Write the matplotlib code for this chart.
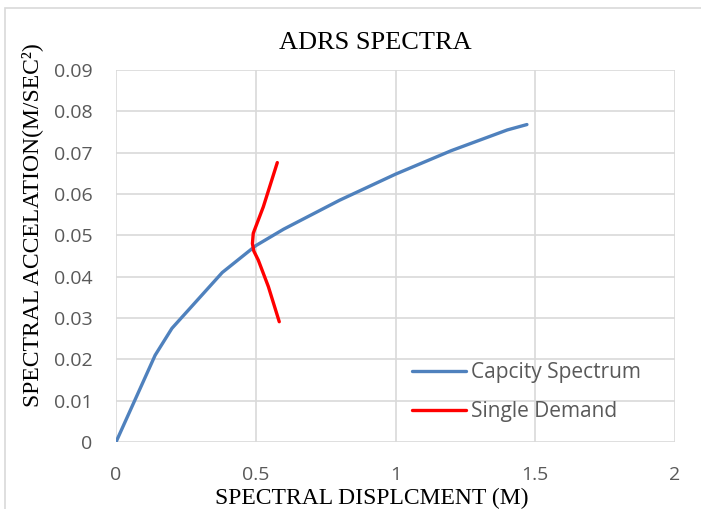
import matplotlib
matplotlib.use("Agg")
import matplotlib.pyplot as plt
from matplotlib.patches import Rectangle

# capacity spectrum (Sd in m, Sa in m/s^2)
cap_sd = [0.0, 0.14, 0.20, 0.30, 0.38, 0.50, 0.60, 0.80, 1.00, 1.20, 1.40, 1.47]
cap_sa = [0.0, 0.021, 0.0275, 0.035, 0.041, 0.0475, 0.0515, 0.0585, 0.0648, 0.0705, 0.0755, 0.0768]

# single demand spectrum
dem_sd = [0.584, 0.545, 0.509, 0.493, 0.488, 0.491, 0.527, 0.577]
dem_sa = [0.0291, 0.0376, 0.0440, 0.0462, 0.0480, 0.0505, 0.0569, 0.0676]

x_ticks = [0, 0.5, 1, 1.5, 2]
x_labels = ["0", "0.5", "1", "1.5", "2"]
y_ticks = [0, 0.01, 0.02, 0.03, 0.04, 0.05, 0.06, 0.07, 0.08, 0.09]
y_labels = ["0", "0.01", "0.02", "0.03", "0.04", "0.05", "0.06", "0.07", "0.08", "0.09"]

serif = "Liberation Serif"
sans = "Open Sans"
grid_c = "#d9d9d9"
tick_c = "#595959"

fig = plt.figure(figsize=(7.01, 5.09), dpi=100)
ax = fig.add_axes([0.1655, 0.1316, 0.7975, 0.7309])

fig.patches.append(Rectangle((0.007, -0.01), 1.0, 0.995, transform=fig.transFigure,
                             fill=False, edgecolor=grid_c, linewidth=1.2))

ax.plot(cap_sd, cap_sa, color="#4f81bd", linewidth=2.4, label="Capcity Spectrum",
        solid_joinstyle="round", solid_capstyle="round")
ax.plot(dem_sd, dem_sa, color="#ff0000", linewidth=2.4, label="Single Demand",
        solid_joinstyle="round", solid_capstyle="round")

ax.set_xlim(0, 2)
ax.set_ylim(0, 0.09)
ax.set_xticks(x_ticks)
ax.set_xticklabels(x_labels)
ax.set_yticks(y_ticks)
ax.set_yticklabels(y_labels)
ax.grid(True, color=grid_c, linewidth=1.2)
ax.set_axisbelow(True)
for s in ax.spines.values():
    s.set_visible(False)
ax.tick_params(length=0, labelsize=14, labelcolor=tick_c)
ax.tick_params(axis="x", pad=17)
ax.tick_params(axis="y", pad=17)
for lab in ax.get_xticklabels() + ax.get_yticklabels():
    lab.set_fontfamily(sans)

ax.text(0.463, 1.072, "ADRS SPECTRA", transform=ax.transAxes, ha="center", va="center",
        fontfamily=serif, fontsize=19)
ax.set_xlabel("SPECTRAL DISPLCMENT (M)", fontfamily=serif, fontsize=17)
ax.xaxis.set_label_coords(0.458, -0.124)
ax.set_ylabel("SPECTRAL ACCELATION(M/SEC²)", fontfamily=serif, fontsize=17)
ax.yaxis.set_label_coords(-0.131, 0.583)

leg = ax.legend(loc="upper left", bbox_to_anchor=(0.53, 0.214), frameon=False,
                borderaxespad=0, borderpad=0,
                handlelength=2.6, handletextpad=0.2, labelspacing=0.85,
                prop={"family": sans, "size": 15})
for t in leg.get_texts():
    t.set_color(tick_c)

fig.savefig("out.png", dpi=100)
